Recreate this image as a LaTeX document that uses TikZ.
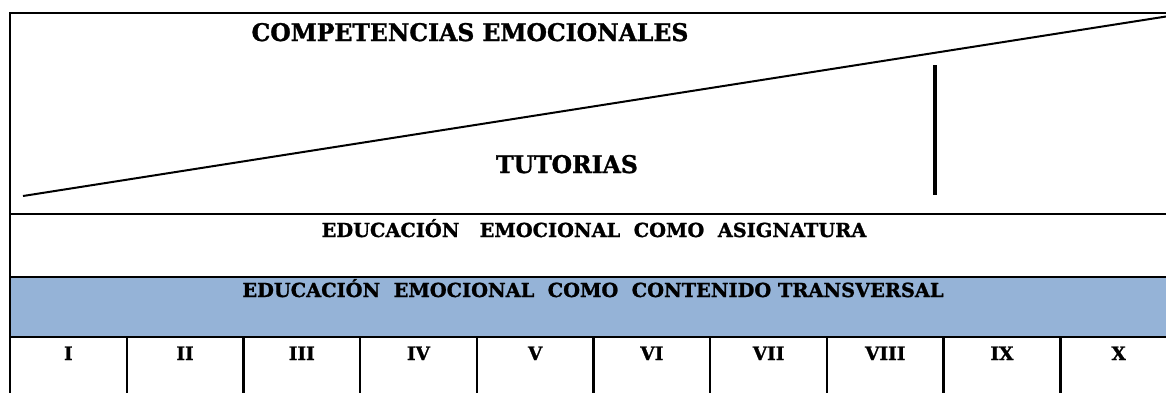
\documentclass[tikz,border=0pt]{standalone}
\usepackage{fontspec}
\setmainfont{DejaVu Serif}[BoldFeatures={FakeBold=1.2}]
\definecolor{bandblue}{HTML}{95B3D7}
\begin{document}
\begin{tikzpicture}[x=1pt,y=-1pt,line width=2.4pt,
  bigtxt/.style={font=\bfseries\fontsize{24.3}{26}\selectfont,inner sep=0pt,anchor=base},
  midtxt/.style={font=\bfseries\fontsize{19.35}{21}\selectfont,inner sep=0pt,anchor=base},
  numtxt/.style={font=\bfseries\fontsize{18.5}{20}\selectfont,inner sep=0pt,anchor=base}]
\useasboundingbox (0,0) rectangle (1166,392);
\begin{scope}
\clip (0,0) rectangle (1166,392);
% band
\fill[bandblue] (10,277) rectangle (1180,337);
% frame and rows
\coordinate (tl) at (10,13);
\coordinate (tr) at (1180,13);
\coordinate (bl) at (10,400);
\draw (bl) -- (tl) -- (tr);
\coordinate (r1l) at (10,214); \coordinate (r1r) at (1180,214);
\coordinate (r2l) at (10,277); \coordinate (r2r) at (1180,277);
\coordinate (r3l) at (10,337); \coordinate (r3r) at (1180,337);
\draw (r1l) -- (r1r);
\draw (r2l) -- (r2r);
\draw (r3l) -- (r3r);
% column separators
\foreach \i in {1,...,9}{
  \coordinate (ct\i) at ({10+116.7*\i},337);
  \coordinate (cb\i) at ({10+116.7*\i},400);
  \draw (ct\i) -- (cb\i);
}
% diagonal and vertical stroke
\coordinate (d1) at (23,196);
\coordinate (d2) at (1166,16.5);
\draw[line width=2pt] (d1) -- (d2);
\coordinate (v1) at (935,65);
\coordinate (v2) at (935,195);
\draw[line width=3.2pt] (v1) -- (v2);
\end{scope}
% texts
\node[bigtxt] (comp) at (470,41) {\scalebox{0.968}[1]{COMPETENCIAS EMOCIONALES}};
\node[bigtxt] (tut) at (567,173) {\scalebox{0.968}[1]{TUTORIAS}};
\node[midtxt] (asig) at (594,237) {EDUCACIÓN\ \ \ EMOCIONAL\ \ COMO\ \ ASIGNATURA};
\node[midtxt] (cont) at (593,297) {EDUCACIÓN\ \ EMOCIONAL\ \ COMO\ \ CONTENIDO TRANSVERSAL};
\foreach \n [count=\k] in {I,II,III,IV,V,VI,VII,VIII,IX,X}{
  \node[numtxt] (n\k) at ({10+116.7*(\k-0.5)},360) {\n};
}
\end{tikzpicture}
\end{document}
